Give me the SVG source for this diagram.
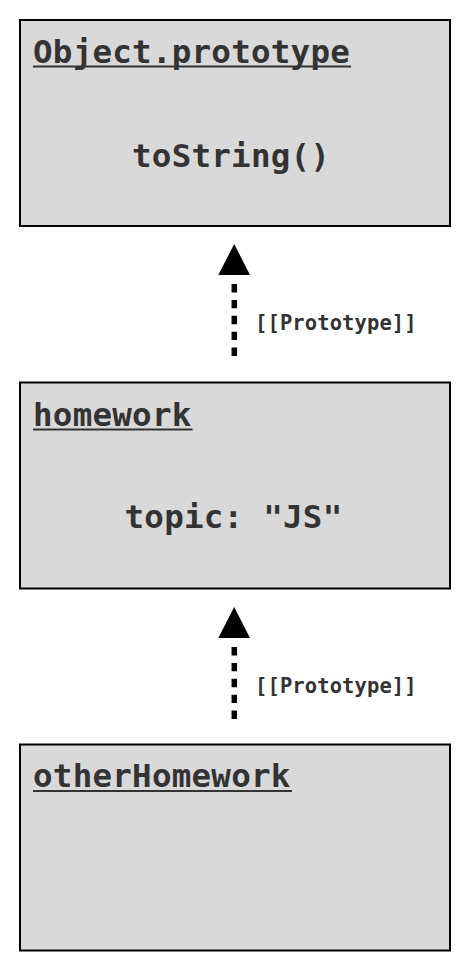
<svg xmlns="http://www.w3.org/2000/svg" width="470" height="970" viewBox="0 0 470 970">
  <style>
    .box { fill: #d9d9d9; stroke: #000; stroke-width: 2; }
    .t { font-family: "DejaVu Sans Mono", "Liberation Mono", monospace; font-weight: bold; fill: #333; font-size: 32.5px; letter-spacing: 0.25px; }
    .ul { stroke: #333; stroke-width: 2; }
    .lbl { font-family: "DejaVu Sans Mono", "Liberation Mono", monospace; font-weight: bold; fill: #333; font-size: 20.5px; letter-spacing: 0.1px; }
    .dash { stroke: #000; stroke-width: 5.5; stroke-dasharray: 8.4 7.5; fill: none; }
    .head { fill: #000; }
  </style>
  <rect width="470" height="970" fill="#fff"/>
  <g id="object-prototype">
    <rect class="box" x="20" y="20" width="430" height="206"/>
    <text class="t" x="33" y="63">Object.prototype</text>
    <line class="ul" x1="33" y1="66.5" x2="351" y2="66.5"/>
    <text class="t" x="132" y="167">toString()</text>
  </g>
  <g id="homework">
    <rect class="box" x="20" y="382.5" width="430" height="206"/>
    <text class="t" x="33" y="426">homework</text>
    <line class="ul" x1="33" y1="429.5" x2="192.5" y2="429.5"/>
    <text class="t" x="124.5" y="528">topic: "JS"</text>
  </g>
  <g id="otherHomework">
    <rect class="box" x="20" y="744.5" width="430" height="206"/>
    <text class="t" x="33" y="787">otherHomework</text>
    <line class="ul" x1="33" y1="791" x2="292" y2="791"/>
  </g>
  <g id="connectors">
    <line class="dash" x1="234.3" y1="284" x2="234.3" y2="357"/>
    <polygon class="head" points="234.2,244 218.3,275 250,275"/>
    <text class="lbl" x="255" y="330">[[Prototype]]</text>
    <line class="dash" x1="234.3" y1="647" x2="234.3" y2="720"/>
    <polygon class="head" points="234.2,607 218.3,638 250,638"/>
    <text class="lbl" x="255" y="693">[[Prototype]]</text>
  </g>
</svg>
